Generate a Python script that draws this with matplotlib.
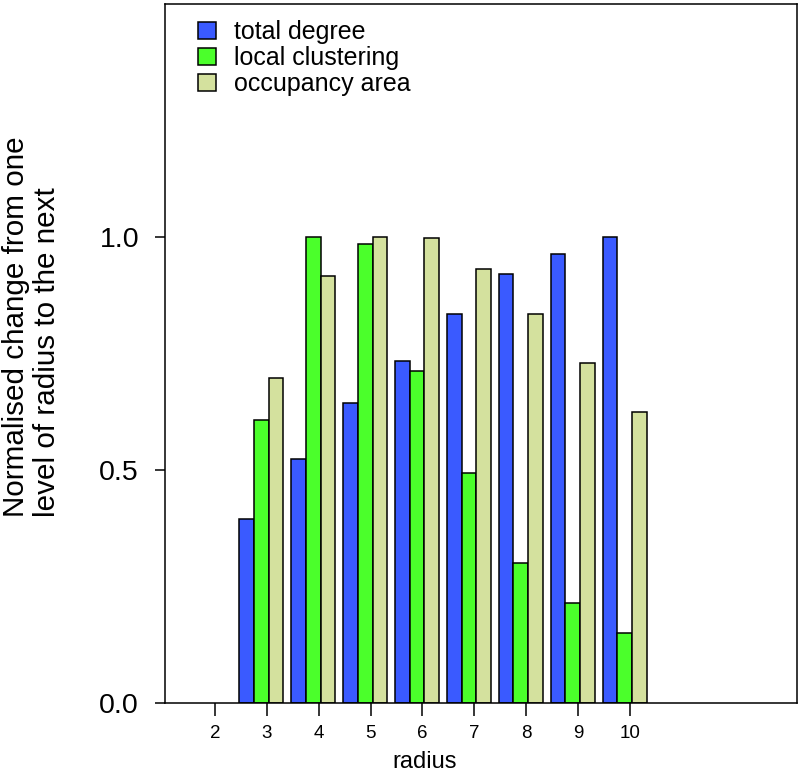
import matplotlib
matplotlib.use("Agg")
import matplotlib.pyplot as plt
import numpy as np

plt.rcParams['font.family'] = ['Liberation Sans', 'DejaVu Sans']

radius = [3, 4, 5, 6, 7, 8, 9, 10]
total_degree = [0.394, 0.523, 0.643, 0.733, 0.834, 0.920, 0.963, 1.0]
local_clustering = [0.607, 1.0, 0.985, 0.712, 0.493, 0.301, 0.215, 0.150]
occupancy_area = [0.698, 0.916, 1.0, 0.997, 0.931, 0.835, 0.730, 0.625]
xticks = [2, 3, 4, 5, 6, 7, 8, 9, 10]
yticks = [0.0, 0.5, 1.0]
series_names = ["total degree", "local clustering", "occupancy area"]
colors = ["#3A5AFF", "#4BFF2B", "#D4E19E"]

fig = plt.figure(figsize=(7.99, 7.76), dpi=100)
ax = fig.add_axes([165/799, 1 - 703/776, (797-165)/799, (703-4)/776])

w = 0.283
off = -0.105
x = np.array(radius, dtype=float) + off
for i, (vals, name, c) in enumerate(zip([total_degree, local_clustering, occupancy_area], series_names, colors)):
    ax.bar(x + (i - 1) * w, vals, width=w, color=c, edgecolor='black', linewidth=1.1, label=name)

ax.set_xlim(1.036, 13.22)
ax.set_ylim(0, 1.5)
ax.set_xticks(xticks)
ax.set_xticklabels([str(t) for t in xticks], fontsize=13.5)
ax.set_yticks(yticks)
ax.set_yticklabels([f"{t:.1f}" for t in yticks], fontsize=20.5)
ax.tick_params(axis='x', length=9.5, width=1.1, pad=6.5)
ax.tick_params(axis='y', length=7.2, width=1.1, pad=11.5)
for s in ax.spines.values():
    s.set_linewidth(1.1)

ax.set_xlabel("radius", fontsize=17)
ax.xaxis.set_label_coords(0.411, -0.068)

fig.text(2/799, 1 - 517/776, "Normalised change from one\nlevel of radius to the next",
         rotation=90, ha='left', va='bottom', multialignment='left', fontsize=21.3,
         linespacing=1.15)

ax.legend(loc='upper left', bbox_to_anchor=(0.026, 1.0), frameon=False, fontsize=18,
          handlelength=0.72, handleheight=0.72, handletextpad=0.72, labelspacing=0.08,
          borderaxespad=0.25)

fig.savefig("out.png", dpi=100)
